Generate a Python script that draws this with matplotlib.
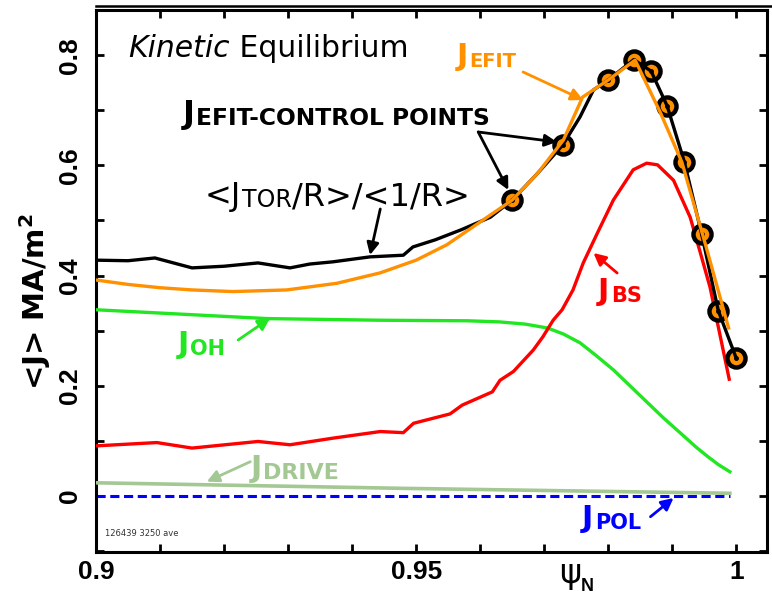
import matplotlib
matplotlib.use("Agg")
import matplotlib.pyplot as plt
from matplotlib.lines import Line2D
from matplotlib.ticker import MultipleLocator, FixedLocator

# ---- data ----
psi_ctrl = [0.965, 0.9729, 0.980, 0.984, 0.9867, 0.9892, 0.9919, 0.9946, 0.9972, 1.0]
j_ctrl = [0.537, 0.637, 0.755, 0.792, 0.771, 0.708, 0.606, 0.475, 0.336, 0.250]

psi_tor = [0.900, 0.905, 0.9092, 0.915, 0.920, 0.9253, 0.9303, 0.9334, 0.937, 0.9428,
           0.948, 0.9495, 0.953, 0.957, 0.9616, 0.965, 0.969, 0.9729, 0.9756, 0.9777,
           0.980, 0.984, 0.9867, 0.9892, 0.9919, 0.9946, 0.9972, 1.0]
j_tor = [0.428, 0.427, 0.432, 0.414, 0.417, 0.423, 0.414, 0.421, 0.425, 0.434,
         0.437, 0.452, 0.465, 0.483, 0.506, 0.537, 0.586, 0.637, 0.688, 0.737,
         0.755, 0.792, 0.771, 0.708, 0.606, 0.475, 0.336, 0.250]

psi_efit = [0.900, 0.905, 0.910, 0.915, 0.9214, 0.9298, 0.9376, 0.9444, 0.950, 0.9548,
            0.9616, 0.965, 0.969, 0.973, 0.976, 0.980, 0.9842, 0.9881, 0.9915, 0.9952, 0.9988]
j_efit = [0.392, 0.384, 0.378, 0.374, 0.371, 0.374, 0.386, 0.405, 0.428, 0.456,
          0.510, 0.537, 0.586, 0.646, 0.724, 0.755, 0.791, 0.697, 0.606, 0.456, 0.305]

psi_bs = [0.900, 0.9095, 0.915, 0.9253, 0.9303, 0.937, 0.9444, 0.948, 0.9496, 0.9553,
          0.9572, 0.9619, 0.9631, 0.9652, 0.9683, 0.9698, 0.9714, 0.9728, 0.9745, 0.9761,
          0.9783, 0.9808, 0.9839, 0.986, 0.9877, 0.9902, 0.9928, 0.9944, 0.9959, 0.9989]
j_bs = [0.091, 0.097, 0.087, 0.099, 0.093, 0.105, 0.117, 0.115, 0.132, 0.149,
        0.165, 0.189, 0.210, 0.226, 0.265, 0.289, 0.319, 0.338, 0.374, 0.423,
        0.477, 0.537, 0.592, 0.604, 0.601, 0.573, 0.506, 0.441, 0.379, 0.212]

psi_oh = [0.900, 0.9267, 0.9444, 0.958, 0.963, 0.967, 0.9705, 0.973, 0.9756, 0.978,
          0.9808, 0.9834, 0.986, 0.9886, 0.9913, 0.9938, 0.9955, 0.9972, 0.999]
j_oh = [0.338, 0.322, 0.319, 0.318, 0.316, 0.312, 0.305, 0.294, 0.278, 0.256,
        0.229, 0.200, 0.171, 0.142, 0.114, 0.088, 0.072, 0.057, 0.044]

psi_drive = [0.900, 0.9475, 0.999]
j_drive = [0.024, 0.014, 0.005]

psi_pol = [0.900, 0.999]
j_pol = [0.0, 0.0]

xticks = [0.9, 0.95, 1.0]
xtick_labels = ["0.9", "0.95", "1"]
yticks = [0, 0.2, 0.4, 0.6, 0.8]
ytick_labels = ["0", "0.2", "0.4", "0.6", "0.8"]

ORANGE = "#ff9000"
RED = "#ff0000"
GREEN = "#22e622"
LGREEN = "#a3c893"
BLUE = "#0000ff"

fig = plt.figure(figsize=(7.72, 5.95), dpi=100)
ax = fig.add_axes([96/772, 43/595, 671/772, 542/595])

ax.plot(psi_pol, j_pol, color=BLUE, lw=2.2, ls=(0, (3, 1.5)), zorder=2)
ax.plot(psi_drive, j_drive, color=LGREEN, lw=2.6, zorder=3)
ax.plot(psi_oh, j_oh, color=GREEN, lw=2.4, zorder=3)
ax.plot(psi_bs, j_bs, color=RED, lw=2.4, zorder=3)
ax.plot(psi_ctrl, j_ctrl, ls="none", marker="o", ms=13, mfc=ORANGE, mec="black", mew=3.2, zorder=4)
ax.plot(psi_ctrl, j_ctrl, ls="none", marker="o", ms=2.5, color="black", zorder=4)
ax.plot(psi_tor, j_tor, color="black", lw=2.4, zorder=5)
ax.plot(psi_efit, j_efit, color=ORANGE, lw=2.4, zorder=6)

ax.set_xlim(0.9, 1.0048)
ax.set_ylim(-0.1016, 0.882)
ax.xaxis.set_major_locator(FixedLocator(xticks))
ax.set_xticklabels(xtick_labels)
ax.xaxis.set_minor_locator(MultipleLocator(0.01))
ax.yaxis.set_major_locator(FixedLocator(yticks))
ax.set_yticklabels(ytick_labels, rotation=90, va="center")
ax.yaxis.set_minor_locator(MultipleLocator(0.1))
ax.tick_params(which="both", direction="in", top=True, right=True, length=6, width=2)
ax.tick_params(axis="x", pad=6)
ax.tick_params(axis="y", pad=10)
for lbl in ax.get_xticklabels() + ax.get_yticklabels():
    lbl.set_fontfamily("Liberation Sans")
    lbl.set_fontweight("bold")
    lbl.set_fontsize(19)
for sp in ax.spines.values():
    sp.set_linewidth(2.2)

fig.add_artist(Line2D([96/772, 1.0], [1 - 6/595, 1 - 6/595], color="black", lw=1.8))

fig.text(35/772, 1 - 302/595, "<J> MA/m$^\\mathbf{2}$", rotation=90, ha="center", va="center",
         fontsize=21, fontweight="bold", family="DejaVu Sans")
ax.text(0.974, -0.158, "ψ", fontsize=24, ha="center", va="baseline", family="DejaVu Sans")
ax.text(0.9757, -0.172, "N", fontsize=13, fontweight="bold", ha="left", va="baseline",
        family="Liberation Sans")

FONT = "DejaVu Sans"


def two_part(x, y, big, small, color, bsize, ssize, weight="bold"):
    t = ax.text(x, y, big, color=color, fontsize=bsize, fontweight=weight, va="baseline",
                family=FONT, zorder=8)
    ax.annotate(small, xy=(1, 0), xycoords=t, xytext=(1, 0), textcoords="offset points",
                color=color, fontsize=ssize, fontweight=weight, va="bottom", ha="left",
                family=FONT, zorder=8)
    return t


def arrow(x0, y0, x1, y1, color):
    ax.annotate("", xy=(x1, y1), xytext=(x0, y0),
                arrowprops=dict(arrowstyle="-|>", color=color, lw=2, mutation_scale=18,
                                shrinkA=0, shrinkB=0), zorder=7)


# title
tk = ax.text(0.905, 0.797, "Kinetic", fontsize=21.5, fontstyle="italic", va="baseline", family=FONT)
ax.annotate(" Equilibrium", xy=(1, 0), xycoords=tk, xytext=(0, 0), textcoords="offset points",
            fontsize=21.5, va="bottom", ha="left", family=FONT)

two_part(0.9563, 0.782, "J", "EFIT", ORANGE, 22, 14)
arrow(0.9667, 0.7695, 0.9761, 0.7187, ORANGE)

two_part(0.9136, 0.677, "J", "EFIT-CONTROL POINTS", "black", 23, 16.8)
arrow(0.9597, 0.6606, 0.9720, 0.6425, "black")
arrow(0.9597, 0.6606, 0.9644, 0.5554, "black")

t = ax.text(0.9170, 0.528, "<J", fontsize=23, va="baseline", family=FONT, zorder=8)
t2 = ax.annotate("TOR", xy=(1, 0), xycoords=t, xytext=(0.5, 0), textcoords="offset points",
                 fontsize=17, va="bottom", ha="left", family=FONT, zorder=8)
ax.annotate("/R>/<1/R>", xy=(1, 0), xycoords=t2, xytext=(0.5, 0), textcoords="offset points",
            fontsize=23, va="bottom", ha="left", family=FONT, zorder=8)
arrow(0.9444, 0.5209, 0.9428, 0.4374, "black")

two_part(0.9784, 0.356, "J", "BS", RED, 22, 15)
arrow(0.9814, 0.4047, 0.9777, 0.441, RED)

two_part(0.9127, 0.2595, "J", "OH", GREEN, 22, 15)
arrow(0.9222, 0.2831, 0.9272, 0.323, GREEN)

two_part(0.9241, 0.035, "J", "DRIVE", LGREEN, 22, 16)
arrow(0.9241, 0.0623, 0.9173, 0.026, LGREEN)

two_part(0.9759, -0.0557, "J", "POL", BLUE, 22, 15)
arrow(0.9866, -0.0376, 0.9902, -0.0036, BLUE)

ax.text(0.9014, -0.0726, "126439 3250 ave", fontsize=6, va="baseline", color="#333333")

fig.savefig("out.png", dpi=100)
